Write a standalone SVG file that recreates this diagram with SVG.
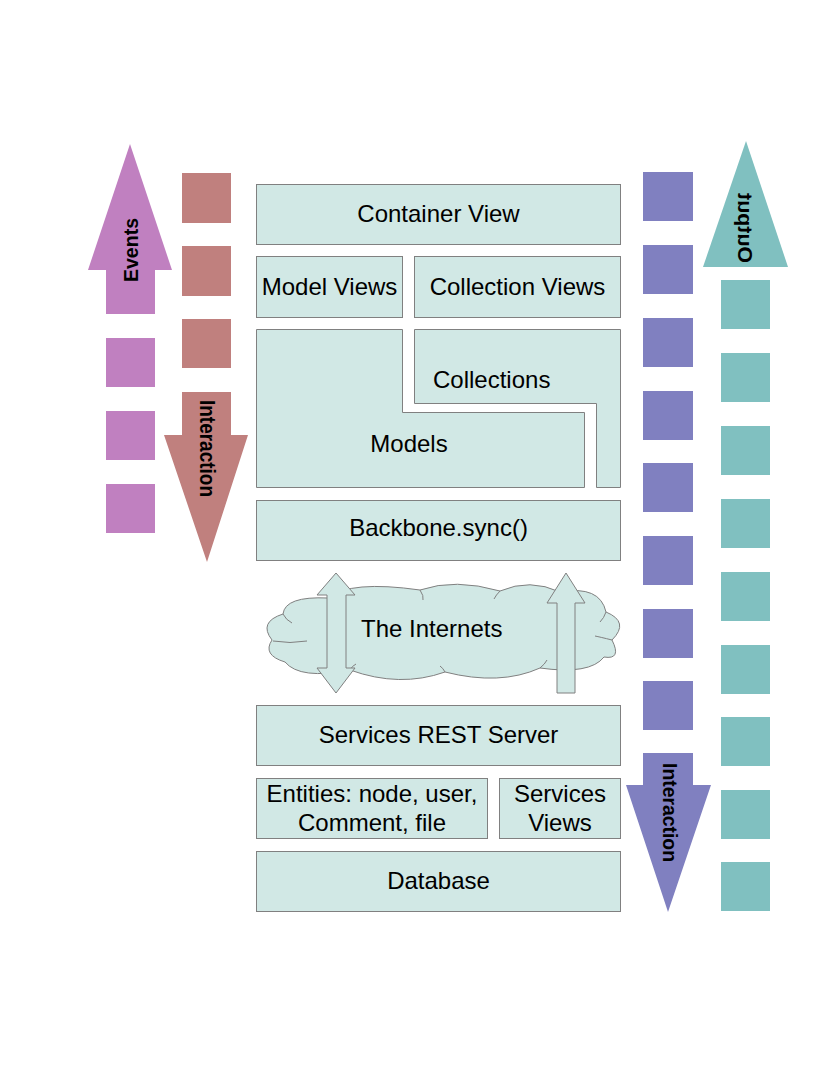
<svg xmlns="http://www.w3.org/2000/svg" width="825" height="1067" viewBox="0 0 825 1067">
<style>
.box{fill:#d1e8e5;stroke:#808080;stroke-width:1}
.t{font-family:"Liberation Sans",Arial,sans-serif;font-size:24px;fill:#000}
.m{text-anchor:middle}
.v{font-family:"Liberation Sans",Arial,sans-serif;font-weight:bold;fill:#000}
.pink{fill:#c080c0}
.brown{fill:#c0807e}
.purple{fill:#8080c0}
.teal{fill:#80c0c0}
.in{fill:none;stroke:#808080;stroke-width:1}
</style>
<rect width="825" height="1067" fill="#fff"/>

<g id="events-arrow">
<polygon class="pink" points="130,144 172,270 155,270 155,314 106,314 106,270 88,270"/>
<text class="v" font-size="21" transform="translate(138,282) rotate(-90)" textLength="64" lengthAdjust="spacingAndGlyphs">Events</text>
</g>
<g id="pink-squares">
<rect class="pink" x="106" y="338" width="49" height="49"/>
<rect class="pink" x="106" y="411" width="49" height="49"/>
<rect class="pink" x="106" y="484" width="49" height="49"/>
</g>
<g id="brown-squares">
<rect class="brown" x="182" y="173" width="49" height="50"/>
<rect class="brown" x="182" y="246" width="49" height="50"/>
<rect class="brown" x="182" y="319" width="49" height="49"/>
</g>
<g id="interaction-left">
<polygon class="brown" points="182,392 231,392 231,435 248,435 207,562 164,435 182,435"/>
<text class="v" font-size="22" transform="translate(200,400) rotate(90)" textLength="97" lengthAdjust="spacingAndGlyphs">Interaction</text>
</g>

<g id="container-view"><rect class="box" x="256.5" y="184.5" width="364" height="60"/><text class="t m" x="438.5" y="222">Container View</text></g>
<g id="model-views"><rect class="box" x="256.5" y="256.5" width="146" height="61"/><text class="t m" x="329.5" y="295">Model Views</text></g>
<g id="collection-views"><rect class="box" x="414.5" y="256.5" width="206" height="61"/><text class="t m" x="517.5" y="295">Collection Views</text></g>
<g id="models"><polygon class="box" points="256.5,329.5 402.5,329.5 402.5,412.5 584.5,412.5 584.5,487.5 256.5,487.5"/><text class="t m" x="409" y="452">Models</text></g>
<g id="collections"><polygon class="box" points="414.5,329.5 620.5,329.5 620.5,487.5 596.5,487.5 596.5,403.5 414.5,403.5"/><text class="t" x="433" y="388">Collections</text></g>
<g id="backbone-sync"><rect class="box" x="256.5" y="500.5" width="364" height="60"/><text class="t m" x="438.5" y="536">Backbone.sync()</text></g>

<g id="internets">
<path class="box" d="M285,662 Q262,655 272,640 Q258,622 283,614 Q285,596 328,598 Q350,580 420,590 Q455,578 500,591 Q530,578 560,592 Q600,585 606,612 Q630,622 612,640 Q622,660 604,657 Q590,675 540,668 Q500,686 445,672 Q400,688 350,670 Q300,680 285,662 Z"/>
<path class="in" d="M273,641 Q290,644 307,641"/>
<path class="in" d="M283,614 Q286,620 292,623"/>
<path class="in" d="M328,598 Q332,603 333,606"/>
<path class="in" d="M420,590 Q424,596 423,600"/>
<path class="in" d="M500,591 Q496,595 494,599"/>
<path class="in" d="M606,612 Q604,618 600,622"/>
<path class="in" d="M612,640 Q600,637 595,636"/>
<path class="in" d="M540,668 Q545,664 547,660"/>
<path class="in" d="M445,672 Q443,668 440,666"/>
<path class="in" d="M350,670 Q352,666 356,664"/>
<text class="t" x="361" y="637">The Internets</text>
</g>

<g id="connectors">
<polygon class="box" points="336,573 355,595 346,595 346,668 355,668 336,693 317,668 327,668 327,595 317,595"/>
<polygon class="box" points="566,573 585,603 575,603 575,693 557,693 557,603 547,603"/>
</g>

<g id="rest-server"><rect class="box" x="256.5" y="705.5" width="364" height="60"/><text class="t m" x="438.5" y="743">Services REST Server</text></g>
<g id="entities"><rect class="box" x="256.5" y="778.5" width="231" height="60"/><text class="t m" x="372" y="802">Entities: node, user,</text><text class="t m" x="372" y="831">Comment, file</text></g>
<g id="services-views"><rect class="box" x="499.5" y="778.5" width="121" height="60"/><text class="t m" x="560" y="802">Services</text><text class="t m" x="560" y="831">Views</text></g>
<g id="database"><rect class="box" x="256.5" y="851.5" width="364" height="60"/><text class="t m" x="438.5" y="889">Database</text></g>

<g id="purple-squares">
<rect class="purple" x="643" y="172" width="50" height="49"/>
<rect class="purple" x="643" y="245" width="50" height="49"/>
<rect class="purple" x="643" y="318" width="50" height="49"/>
<rect class="purple" x="643" y="391" width="50" height="49"/>
<rect class="purple" x="643" y="463" width="50" height="49"/>
<rect class="purple" x="643" y="536" width="50" height="49"/>
<rect class="purple" x="643" y="609" width="50" height="49"/>
<rect class="purple" x="643" y="681" width="50" height="49"/>
</g>
<g id="interaction-right">
<polygon class="purple" points="643,753 693,753 693,785 711,785 668,912 626,785 643,785"/>
<text class="v" font-size="21" transform="translate(663,763) rotate(90)" textLength="99" lengthAdjust="spacingAndGlyphs">Interaction</text>
</g>
<g id="output-arrow">
<polygon class="teal" points="746,141 788,267 703,267"/>
<text class="v" font-size="20" transform="matrix(0,-1,-1,0,738,263)" textLength="70" lengthAdjust="spacingAndGlyphs">Output</text>
</g>
<g id="teal-squares">
<rect class="teal" x="721" y="280" width="49" height="49"/>
<rect class="teal" x="721" y="353" width="49" height="49"/>
<rect class="teal" x="721" y="426" width="49" height="49"/>
<rect class="teal" x="721" y="499" width="49" height="49"/>
<rect class="teal" x="721" y="572" width="49" height="49"/>
<rect class="teal" x="721" y="645" width="49" height="49"/>
<rect class="teal" x="721" y="717" width="49" height="49"/>
<rect class="teal" x="721" y="790" width="49" height="49"/>
<rect class="teal" x="721" y="862" width="49" height="49"/>
</g>
</svg>
